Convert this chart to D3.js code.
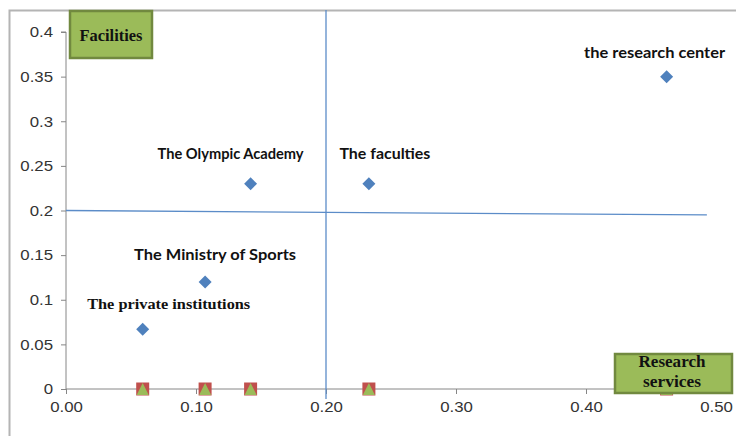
<!DOCTYPE html>
<html>
<head>
<meta charset="utf-8">
<script src="https://cdn.jsdelivr.net/npm/d3@7/dist/d3.min.js"></script>
<style>
html,body{margin:0;padding:0;background:#fff;}
svg{display:block;}
</style>
</head>
<body>
<svg id="chart" width="736" height="436"></svg>
<script>
// ---- data ----
const pointLabels = ["The private institutions","The Ministry of Sports","The Olympic Academy","The faculties","the research center"];
const xValues = [0.059, 0.107, 0.142, 0.233, 0.462];
const yValues = [0.067, 0.12, 0.23, 0.23, 0.35];
const series2 = [0, 0, 0, 0, 0];
const series3 = [0, 0, 0, 0, 0];
const xTicks = [0, 0.1, 0.2, 0.3, 0.4, 0.5];
const yTicks = [0, 0.05, 0.1, 0.15, 0.2, 0.25, 0.3, 0.35, 0.4];
const vLineX = [0.2];
const hLine = [[0, 0.2], [0.493, 0.195]];
const quadrantY = "Facilities";
const quadrantX = ["Research", "services"];

// ---- layout ----
const svg = d3.select("#chart");
const x = d3.scaleLinear().domain([0, 0.5]).range([66, 716]);
const y = d3.scaleLinear().domain([0, 0.4]).range([389, 32]);
const labelOffsets = [[26,-20],[10,-22],[-20,-25],[16,-25],[-12,-19]];
const labelFonts = ["serif","sans","sans","sans","sans"];
const labelWidths = [163, 162, 146, 91, 141];

// outer border
svg.append("path").attr("d","M9.5,440 V10.5 H740")
  .attr("fill","none").attr("stroke","#b4b4b4").attr("stroke-width",2);

// axes
const axisColor = "#868686";
const yAxis = svg.append("g").attr("transform",`translate(${x(0)},0)`)
  .call(d3.axisLeft(y).tickValues(yTicks).tickSize(5).tickPadding(8)
    .tickFormat(d => d === 0 ? "0" : d3.format("")(+d.toFixed(2))));
const xAxis = svg.append("g").attr("transform",`translate(0,${y(0)})`)
  .call(d3.axisBottom(x).tickValues(xTicks).tickSize(5).tickPadding(7)
    .tickFormat(d3.format(".2f")));
[yAxis, xAxis].forEach(g => {
  g.select(".domain").attr("stroke",axisColor).attr("stroke-width",1);
  g.selectAll(".tick line").attr("stroke",axisColor);
  g.selectAll("text").attr("fill","#333")
    .style("font-family","'Liberation Sans', Arial, sans-serif").style("font-size","15px");
  g.selectAll("text").each(function(){
    const w = this.getComputedTextLength();
    d3.select(this).attr("textLength", w*1.12).attr("lengthAdjust","spacingAndGlyphs");
  });
});
yAxis.select(".domain").attr("d",`M-5,${y(0.4)}H0V${y(0)}`);
xAxis.select(".domain").attr("d",`M${x(0)},0H${x(0.5)+4}`);

// quadrant lines
const lineColor = "#5b8cc8";
svg.selectAll(".vline").data(vLineX).enter().append("line")
  .attr("x1",d=>x(d)).attr("x2",d=>x(d)).attr("y1",10).attr("y2",y(0)+10)
  .attr("stroke",lineColor).attr("stroke-width",1.3);
svg.append("path").datum(hLine)
  .attr("d", d3.line().x(d=>x(d[0])).y(d=>y(d[1])))
  .attr("fill","none").attr("stroke",lineColor).attr("stroke-width",1.3);

// series 2: red squares
svg.selectAll(".sq").data(xValues).enter().append("rect")
  .attr("x",(d)=>x(d)-6.5).attr("y",(d,i)=>y(series2[i])-6.5)
  .attr("width",13).attr("height",13).attr("fill","#C0504D");
// series 3: green triangles
svg.selectAll(".tri").data(xValues).enter().append("path")
  .attr("transform",(d,i)=>`translate(${x(d)},${y(series3[i])})`)
  .attr("d","M0,-6 L6,6 L-6,6 Z").attr("fill","#9BBB59");

// series 1: diamonds
svg.selectAll(".dia").data(xValues).enter().append("path")
  .attr("transform",(d,i)=>`translate(${x(d)},${y(yValues[i])})`)
  .attr("d","M0,-6.5 L6.5,0 L0,6.5 L-6.5,0 Z").attr("fill","#4F81BD");

// data labels
svg.selectAll(".lbl").data(pointLabels).enter().append("text")
  .attr("x",(d,i)=>x(xValues[i])+labelOffsets[i][0])
  .attr("y",(d,i)=>y(yValues[i])+labelOffsets[i][1])
  .attr("text-anchor","middle")
  .attr("textLength",(d,i)=>labelWidths[i]).attr("lengthAdjust","spacingAndGlyphs")
  .style("font-family",(d,i)=>labelFonts[i]==="serif" ? "'Liberation Serif','Times New Roman',serif" : "Lato,'Open Sans',sans-serif")
  .style("font-size",(d,i)=>labelFonts[i]==="serif" ? "15.5px" : "14.5px")
  .style("font-weight","bold").attr("fill","#111")
  .text(d=>d);

// quadrant boxes
const boxFill = "#9BBB59", boxStroke = "#71893F";
const serif = "'Liberation Serif','Times New Roman',serif";
svg.append("rect").attr("x",70).attr("y",11).attr("width",82).attr("height",47)
  .attr("fill",boxFill).attr("stroke",boxStroke).attr("stroke-width",2.5);
svg.append("text").attr("x",111).attr("y",41).attr("text-anchor","middle")
  .attr("textLength",63).attr("lengthAdjust","spacingAndGlyphs")
  .style("font-family",serif).style("font-size","16.5px")
  .style("font-weight","bold").attr("fill","#111").text(quadrantY);

const qxWidths = [67, 58];
svg.append("rect").attr("x",615).attr("y",354).attr("width",117).attr("height",39)
  .attr("fill",boxFill).attr("stroke",boxStroke).attr("stroke-width",2.5);
svg.selectAll(".qx").data(quadrantX).enter().append("text")
  .attr("x",672).attr("y",(d,i)=>367+i*20).attr("text-anchor","middle")
  .attr("textLength",(d,i)=>qxWidths[i]).attr("lengthAdjust","spacingAndGlyphs")
  .style("font-family",serif).style("font-size","16.5px")
  .style("font-weight","bold").attr("fill","#111").text(d=>d);
</script>
</body>
</html>
